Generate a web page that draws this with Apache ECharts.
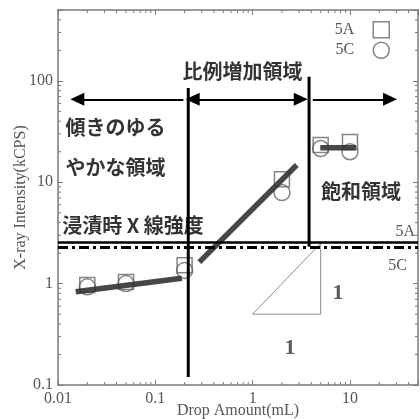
<!DOCTYPE html>
<html><head><meta charset="utf-8">
<script src="https://cdn.jsdelivr.net/npm/echarts@6/dist/echarts.min.js"></script>
<style>html,body{margin:0;padding:0;background:#fff}#c{width:420px;height:419px}</style>
</head><body><div id="c"></div>
<script>
// ---- data ----
const dropAmount = [0.02, 0.05, 0.2, 2, 5, 10];
const intensity5A = [0.97, 1.04, 1.52, 10.7, 23.3, 25];
const intensity5C = [0.93, 1.0, 1.35, 7.9, 21.5, 20];
const fitLowX = [0.0152, 0.187],  fitLowY = [0.83, 1.13];
const fitMidX = [0.283, 2.84],    fitMidY = [1.63, 14.8];
const fitHighX = [4.95, 11.5],    fitHighY = [21.9, 21.9];
const level5A = 2.55, level5C = 2.31;
const boundary1X = [0.218, 0.218], boundary1Y = [0.12, 85];
const boundary2X = [3.8, 3.8],     boundary2Y = [2.31, 110];
const arrowY = 65.7;
const arrowLeftX = [0.194, 0.0158];
const arrowMidX = [0.242, 3.12];
const arrowRightX = [4.15, 25.8];
const slopeX = [1, 5, 5, 1], slopeY = [0.5, 0.5, 2.5, 0.5];
const regionTexts = ['比例増加領域', '傾きのゆる', 'やかな領域', '浸漬時 X 線強度', '飽和領域'];
const regionX = [0.785, 0.039, 0.039, 0.059, 13];
const regionY = [125, 35, 14.1, 3.78, 8.06];
const slopeTexts = ['1', '1'];
const slopeTextX = [7.55, 2.42], slopeTextY = [0.81, 0.23];
const xMin = 0.01, xMax = 50, yMin = 0.1, yMax = 500;
const xTickLabels = ['0.01', '0.1', '1', '10'];
const yTickLabels = ['0.1', '1', '10', '100'];

// ---- minor tick values (axis decoration) ----
const minorX = [], minorY = [];
for (let d = -2; d <= 2; d++) for (let k = 2; k <= 9; k++) {
  const v = k * Math.pow(10, d);
  if (v > xMin && v < xMax) minorX.push(v);
  if (v > yMin && v < yMax) minorY.push(v);
}

const serif = 'Liberation Serif';
const gray = '#555';
const frame = '#7a7a7a';
function decadeLabel(arr, first) {
  return function (v) {
    const r = Math.log10(v);
    const e = Math.round(r);
    if (Math.abs(r - e) > 1e-6) return '';
    return arr[e - first] || '';
  };
}
const pairs = (xs, ys) => xs.map((x, i) => [x, ys[i]]);

const chart = echarts.init(document.getElementById('c'));
const baseX = { type: 'log', logBase: 10, min: xMin, max: xMax, splitLine: { show: false },
  axisLine: { show: true, lineStyle: { color: frame, width: 1.5 } },
  axisTick: { show: true, inside: true, length: 5, lineStyle: { color: frame, width: 1 } } };
const baseY = { type: 'log', logBase: 10, min: yMin, max: yMax, splitLine: { show: false },
  axisLine: { show: true, lineStyle: { color: frame, width: 1.5 } },
  axisTick: { show: true, inside: true, length: 5, lineStyle: { color: frame, width: 1 } } };

const blackLine = { color: '#000', width: 3, type: 'solid' };
const arrowLine = { color: '#000', width: 2, type: 'solid' };
const headSize = [13, 14];

chart.setOption({
  animation: false,
  grid: { left: 58, right: 2, top: 10, bottom: 34, containLabel: false, outerBoundsMode: 'none' },
  legend: {
    data: ['5A', '5C'], orient: 'vertical', right: 25, top: 16, align: 'right',
    itemWidth: 16, itemHeight: 16, itemGap: 3,
    itemStyle: { color: 'rgba(0,0,0,0)', borderColor: '#666', borderWidth: 1.5 },
    textStyle: { fontFamily: serif, fontSize: 16, color: gray, padding: [0, 14, 0, 0] }
  },
  xAxis: [
    Object.assign({}, baseX, { position: 'bottom', name: 'Drop Amount(mL)', nameLocation: 'middle', nameGap: 18,
      nameMoveOverlap: false,
      nameTextStyle: { fontFamily: serif, fontSize: 16, color: gray },
      axisLabel: { fontFamily: serif, fontSize: 16, color: gray, margin: 6, formatter: decadeLabel(xTickLabels, -2) } }),
    Object.assign({}, baseX, { position: 'top', axisLabel: { show: false } })
  ],
  yAxis: [
    Object.assign({}, baseY, { position: 'left', name: 'X-ray Intensity(kCPS)', nameLocation: 'middle', nameGap: 29,
      nameMoveOverlap: false,
      nameTextStyle: { fontFamily: serif, fontSize: 16, color: gray },
      axisLabel: { fontFamily: serif, fontSize: 16, color: gray, margin: 5, formatter: decadeLabel(yTickLabels, -1) } }),
    Object.assign({}, baseY, { position: 'right', axisLabel: { show: false } })
  ],
  series: [
    { name: '5A', type: 'scatter', symbol: 'rect', symbolSize: 15, data: pairs(dropAmount, intensity5A),
      itemStyle: { color: 'rgba(0,0,0,0)', borderColor: '#666', borderWidth: 1.5 }, z: 3 },
    { name: '5C', type: 'scatter', symbol: 'circle', symbolSize: 16, data: pairs(dropAmount, intensity5C),
      itemStyle: { color: 'rgba(0,0,0,0)', borderColor: '#666', borderWidth: 1.5 }, z: 3 },
    { name: 'slope', type: 'line', data: pairs(slopeX, slopeY), showSymbol: false, symbol: 'none',
      lineStyle: { color: '#8a8a8a', width: 1 }, z: 2 },
    { name: 'fitLow', type: 'line', data: pairs(fitLowX, fitLowY), symbol: 'none',
      lineStyle: { color: '#333', width: 5.5, opacity: 0.9, cap: 'butt' }, z: 4 },
    { name: 'fitMid', type: 'line', data: pairs(fitMidX, fitMidY), symbol: 'none',
      lineStyle: { color: '#333', width: 5.5, opacity: 0.9, cap: 'butt' }, z: 4 },
    { name: 'fitHigh', type: 'line', data: pairs(fitHighX, fitHighY), symbol: 'none',
      lineStyle: { color: '#333', width: 5.5, opacity: 0.9, cap: 'butt' }, z: 4 },
    { name: 'boundary2', type: 'line', data: pairs(boundary2X, boundary2Y), symbol: 'none',
      lineStyle: blackLine, z: 5 },
    { name: 'boundary1', type: 'line', data: pairs(boundary1X, boundary1Y), symbol: 'none',
      lineStyle: blackLine, z: 5,
      markLine: {
        silent: true, animation: false, symbol: 'none', precision: 6,
        data: [
          { yAxis: level5A, lineStyle: { color: '#000', width: 2.5, type: 'solid' },
            label: { show: true, position: 'insideEndTop', formatter: '5A', fontFamily: serif, fontSize: 16, color: gray, distance: 3 } },
          { yAxis: level5C, lineStyle: { color: '#000', width: 3, type: [10, 4, 3, 4] },
            label: { show: true, position: 'insideEndBottom', formatter: '5C', fontFamily: serif, fontSize: 16, color: gray, distance: 11 } },
          [{ coord: [arrowLeftX[0], arrowY], symbol: 'none', lineStyle: arrowLine, label: { show: false } },
           { coord: [arrowLeftX[1], arrowY], symbol: 'triangle', symbolSize: headSize }],
          [{ coord: [arrowMidX[0], arrowY], symbol: 'triangle', symbolSize: headSize, lineStyle: arrowLine, label: { show: false } },
           { coord: [arrowMidX[1], arrowY], symbol: 'triangle', symbolSize: headSize }],
          [{ coord: [arrowRightX[0], arrowY], symbol: 'none', lineStyle: arrowLine, label: { show: false } },
           { coord: [arrowRightX[1], arrowY], symbol: 'triangle', symbolSize: headSize }]
        ],
        itemStyle: { color: '#000' }
      } },
    { name: 'regions', type: 'scatter', symbolSize: 1, itemStyle: { color: 'rgba(0,0,0,0)' }, z: 6,
      data: regionTexts.map((t, i) => ({ value: [regionX[i], regionY[i]], name: t })),
      label: { show: true, position: 'inside', formatter: p => p.name, fontFamily: 'Noto Sans CJK JP',
        fontWeight: 'bold', fontSize: 20, color: '#000' } },
    { name: 'slopeLabels', type: 'scatter', symbolSize: 1, itemStyle: { color: 'rgba(0,0,0,0)' }, z: 6,
      data: slopeTexts.map((t, i) => ({ value: [slopeTextX[i], slopeTextY[i]], name: t })),
      label: { show: true, position: 'inside', formatter: p => p.name, fontFamily: serif,
        fontWeight: 'bold', fontSize: 22, color: '#333' } },
    { name: 'minorTicks', type: 'custom', z: 1, silent: true, clip: false,
      data: minorX.map(v => [v, 1, 0]).concat(minorY.map(v => [1, v, 1])),
      renderItem: function (params, api) {
        const st = { stroke: frame, lineWidth: 1 };
        if (api.value(2) === 0) {
          const x = api.coord([api.value(0), 1])[0];
          const yb = api.coord([1, yMin])[1], yt = api.coord([1, yMax])[1];
          return { type: 'group', children: [
            { type: 'line', shape: { x1: x, y1: yb, x2: x, y2: yb - 3 }, style: st },
            { type: 'line', shape: { x1: x, y1: yt, x2: x, y2: yt + 3 }, style: st } ] };
        }
        const y = api.coord([1, api.value(1)])[1];
        const xl = api.coord([xMin, 1])[0], xr = api.coord([xMax, 1])[0];
        return { type: 'group', children: [
          { type: 'line', shape: { x1: xl, y1: y, x2: xl + 3, y2: y }, style: st },
          { type: 'line', shape: { x1: xr, y1: y, x2: xr - 3, y2: y }, style: st } ] };
      } }
  ]
});
</script></body></html>
